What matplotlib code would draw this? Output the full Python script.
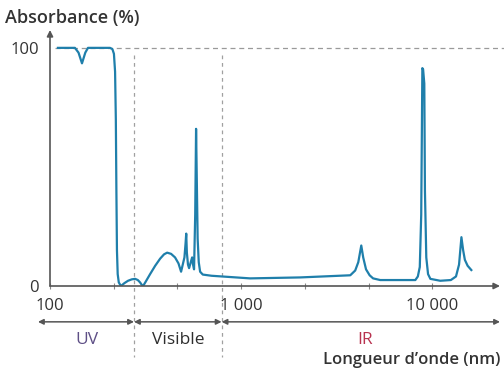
import matplotlib.pyplot as plt
import numpy as np

# absorbance spectrum (wavelength in nm, absorbance in %)
wavelength = [110, 135, 141, 147, 153, 158, 206, 212, 216, 219, 221, 222.5, 224, 226,
              229, 235, 245, 256, 268, 279, 288, 296, 302, 307, 315, 334, 355, 377,
              395, 410, 430, 451, 470, 485, 505, 512, 516, 520, 527, 534, 545, 554,
              560, 567, 575, 581, 586, 592, 600, 610, 630, 700, 1114, 2036, 3722,
              3950, 4100, 4250, 4350, 4500, 4700, 4900, 5340, 8150, 8400, 8600, 8750,
              8870, 8950, 9080, 9150, 9300, 9500, 9770, 11000, 12500, 13300, 13800,
              14200, 14500, 14800, 15300, 16000]
absorbance = [100, 100, 98, 93.5, 98, 100, 100, 99.5, 97.5, 90, 70, 40, 15, 5,
              1.5, 0, 1.2, 2.2, 2.8, 3, 2.5, 1.5, 0.5, 0, 1.5, 5, 8.5, 11.5,
              13.3, 14, 13.5, 12, 9.5, 6, 12, 18, 22, 14, 9, 7.5, 10, 12,
              9, 7, 30, 66, 45, 20, 10, 6, 4.8, 4.3, 3.2, 3.6, 4.5,
              6.5, 10, 17, 12, 7, 4.5, 3.2, 2.5, 2.5, 4, 8, 30,
              91.5, 91, 85, 40, 12, 5, 3, 2.2, 2.5, 4, 9,
              20.5, 15, 11, 8.5, 6.7]

tick_pos = [100, 215, 464, 1000, 2154, 4642, 10000]
tick_labels = ['100', '', '', '1 000', '', '', '10 000']
y_ticks = [0, 100]

# domains: (label, start, end, colour)
domains = [('UV', 86.5, 275, '#5e4f86'),
           ('Visible', 275, 790, '#2e2e2e'),
           ('IR', 790, 22600, '#b8324f')]

plt.rcParams['font.family'] = ['Open Sans', 'DejaVu Sans']
txt = '#333333'

fig = plt.figure(figsize=(5.04, 3.74), dpi=100)
ax = fig.add_axes([50 / 504, 88 / 374, 450 / 504, 256 / 374])

ax.plot(wavelength, absorbance, color='#1f7fab', lw=1.6, zorder=3,
        solid_joinstyle='round')

ax.set_xscale('log')
ax.set_xlim(100, 22600)
ax.set_ylim(0, 107.5)

ax.set_xticks(tick_pos)
ax.set_xticklabels(tick_labels)
ax.xaxis.set_minor_locator(plt.NullLocator())
ax.set_yticks(y_ticks)
ax.tick_params(axis='x', direction='inout', length=5, color='#888888',
               labelsize=12, labelcolor=txt, pad=6)
ax.tick_params(axis='y', length=0, labelsize=12, labelcolor=txt, pad=8)

for s in ['top', 'right', 'left', 'bottom']:
    ax.spines[s].set_visible(False)

# axes drawn as arrows
ax.annotate('', xy=(0, 1.0), xytext=(0, 0), xycoords='axes fraction',
            arrowprops=dict(arrowstyle='-|>', color='#555555', lw=1.2,
                            mutation_scale=9, shrinkA=0, shrinkB=0))
ax.annotate('', xy=(1.0, 0), xytext=(0, 0), xycoords='axes fraction',
            arrowprops=dict(arrowstyle='-|>', color='#555555', lw=1.2,
                            mutation_scale=9, shrinkA=0, shrinkB=0))

# dashed guide lines
ax.plot([0.011, 1.01], [100, 100], color='#9a9a9a', lw=0.9, ls=(0, (4, 3)),
        transform=ax.get_yaxis_transform(), clip_on=False, zorder=1)
for b in [275, 790]:
    ax.plot([b, b], [0.902, -0.277], color='#a0a0a0', lw=0.9, ls=(0, (3, 3)),
            transform=ax.get_xaxis_transform(), clip_on=False, zorder=1)

# domain arrows and labels
tr = ax.get_xaxis_transform()
for name, a, b, c in domains:
    ax.annotate('', xy=(b, -0.14), xytext=(a, -0.14), xycoords=tr,
                arrowprops=dict(arrowstyle='<|-|>', color='#555555', lw=1.1,
                                mutation_scale=8, shrinkA=0, shrinkB=0),
                annotation_clip=False)
    xm = np.sqrt(a * 1.02 * b) if name != 'IR' else 4450
    ax.text(xm, -0.21, name, transform=tr, ha='center', va='center',
            fontsize=12.5, color=c)

fig.text(5 / 504, 1 - 18 / 374, 'Absorbance (%)', fontsize=13,
         fontweight='semibold', color=txt, ha='left', va='center')
fig.text(500 / 504, 1 - 360 / 374, 'Longueur d\u2019onde (nm)', fontsize=12,
         fontweight='semibold', color=txt, ha='right', va='center')

fig.savefig('out.png', dpi=100, facecolor='white')
